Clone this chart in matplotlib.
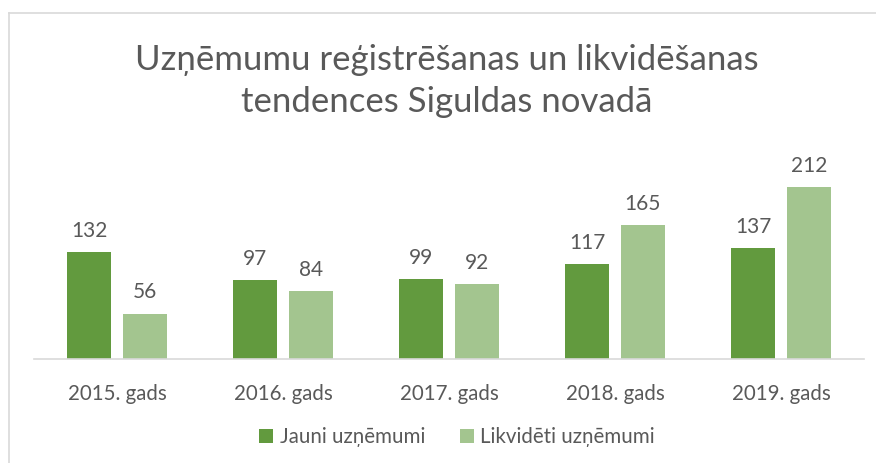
import matplotlib
matplotlib.use("Agg")
import matplotlib.pyplot as plt
from matplotlib.lines import Line2D
import numpy as np

categories = ["2015. gads", "2016. gads", "2017. gads", "2018. gads", "2019. gads"]
jauni = [132, 97, 99, 117, 137]
likvideti = [56, 84, 92, 165, 212]
series_names = ["Jauni uzņēmumi", "Likvidēti uzņēmumi"]
title = "Uzņēmumu reģistrēšanas un likvidēšanas\ntendences Siguldas novadā"

dark = "#629A3E"
light = "#A3C58F"
txt = "#595959"

plt.rcParams['font.family'] = ['Lato', 'DejaVu Sans']

W, H = 876, 463
fig = plt.figure(figsize=(W/100, H/100), dpi=100)

# border lines (top and left)
fig.add_artist(Line2D([8.5/W, 8.5/W], [0, 1 - 12.5/H], color="#D9D9D9", lw=1.2, transform=fig.transFigure))
fig.add_artist(Line2D([8.5/W, 1], [1 - 12.5/H, 1 - 12.5/H], color="#D9D9D9", lw=1.2, transform=fig.transFigure))

ymax = 250
px_per_unit = 172 / 212
top_px = 359 - ymax * px_per_unit
ax = fig.add_axes([34/W, (H - 359)/H, 830/W, (359 - top_px)/H])

x = np.arange(len(categories))
w = 0.265
off = 0.167
b1 = ax.bar(x - off, jauni, w, color=dark, label=series_names[0])
b2 = ax.bar(x + off, likvideti, w, color=light, label=series_names[1])
for bars in (b1, b2):
    ax.bar_label(bars, padding=8, fontsize=15, color=txt)

ax.set_xlim(-0.5, len(categories) - 0.5)
ax.set_ylim(0, ymax)
ax.set_yticks([])
ax.set_xticks(x)
ax.set_xticklabels(categories, fontsize=14.8, color=txt)
ax.tick_params(axis='x', length=0, pad=18)
for s in ("top", "right", "left"):
    ax.spines[s].set_visible(False)
ax.spines["bottom"].set_color("#D9D9D9")
ax.spines["bottom"].set_linewidth(1.2)

fig.text(447/W, 1 - 81/H, title, ha="center", va="center", fontsize=25, color=txt, linespacing=1.4)

leg = fig.legend(handles=[b1, b2], labels=series_names, loc="center", bbox_to_anchor=(457/W, 1 - 437/H),
                 ncol=2, frameon=False, fontsize=14.8, handlelength=0.7, handleheight=0.7,
                 handletextpad=0.3, columnspacing=1.7)
for t in leg.get_texts():
    t.set_color(txt)

fig.savefig("out.png", dpi=100, facecolor="white")
